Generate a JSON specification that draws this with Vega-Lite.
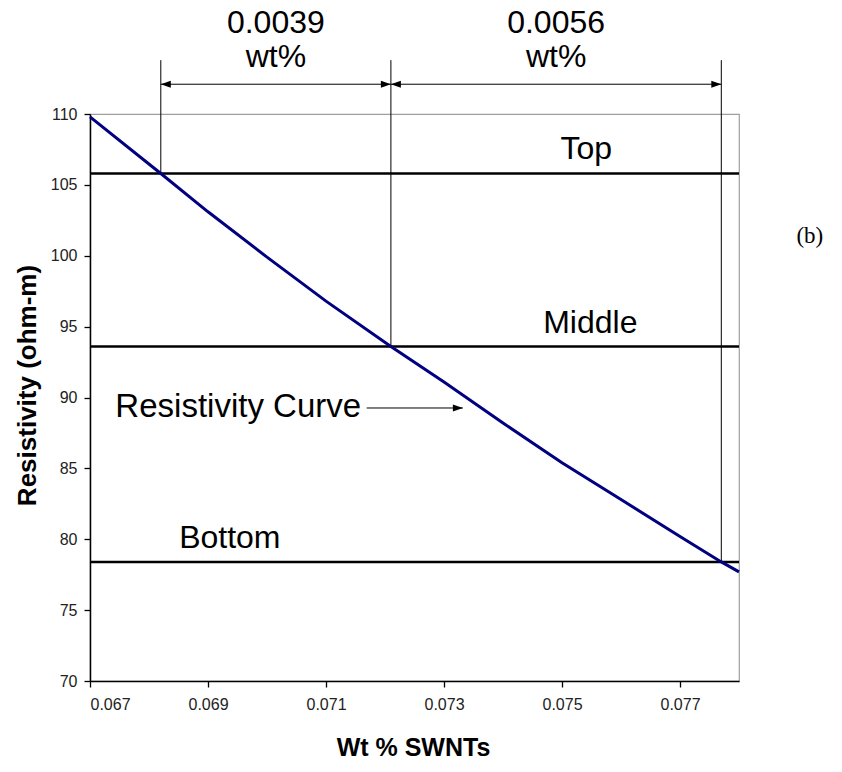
{
  "$schema": "https://vega.github.io/schema/vega-lite/v6.json",
  "autosize": "none",
  "width": 649,
  "height": 567,
  "padding": {"left": 90, "top": 114, "right": 103, "bottom": 91},
  "background": "white",
  "config": {
    "view": {"stroke": "#a0a0a0", "strokeWidth": 1.2},
    "font": "Liberation Sans",
    "axis": {
      "grid": false,
      "domainColor": "#000000",
      "domainWidth": 1.5,
      "tickColor": "#000000",
      "tickWidth": 1.3,
      "tickSize": 6,
      "labelFont": "Liberation Sans",
      "labelFontSize": 16,
      "labelColor": "#222222",
      "titleFont": "Liberation Sans",
      "titleFontWeight": "bold",
      "titleColor": "#000000"
    }
  },
  "datasets": {
    "curve": [
      {"wt": 0.067, "rho": 109.8},
      {"wt": 0.0682, "rho": 105.8},
      {"wt": 0.069, "rho": 103.1},
      {"wt": 0.070, "rho": 99.9},
      {"wt": 0.071, "rho": 96.8},
      {"wt": 0.0721, "rho": 93.6},
      {"wt": 0.073, "rho": 91.1},
      {"wt": 0.074, "rho": 88.2},
      {"wt": 0.075, "rho": 85.4},
      {"wt": 0.076, "rho": 82.8},
      {"wt": 0.077, "rho": 80.2},
      {"wt": 0.0777, "rho": 78.4},
      {"wt": 0.078, "rho": 77.7}
    ],
    "levels": [
      {"name": "Top", "rho": 105.8},
      {"name": "Middle", "rho": 93.6},
      {"name": "Bottom", "rho": 78.4}
    ],
    "crossings": [
      {"wt": 0.0682, "rho": 105.8, "top": 113.8},
      {"wt": 0.0721, "rho": 93.6, "top": 113.8},
      {"wt": 0.0777, "rho": 78.4, "top": 113.8}
    ],
    "spans": [
      {"from": 0.0682, "to": 0.0721, "rho": 112.1},
      {"from": 0.0721, "to": 0.0777, "rho": 112.1},
      {"from": 0.07169, "to": 0.07332, "rho": 89.26}
    ],
    "heads": [
      {"wt": 0.0682, "rho": 112.1, "dir": "left"},
      {"wt": 0.0721, "rho": 112.1, "dir": "right"},
      {"wt": 0.0721, "rho": 112.1, "dir": "left"},
      {"wt": 0.0777, "rho": 112.1, "dir": "right"},
      {"wt": 0.07332, "rho": 89.26, "dir": "right"}
    ],
    "labels": [
      {"wt": 0.07015, "rho": 115.71, "text": "0.0039"},
      {"wt": 0.07015, "rho": 113.31, "text": "wt%"},
      {"wt": 0.0749, "rho": 115.71, "text": "0.0056"},
      {"wt": 0.0749, "rho": 113.31, "text": "wt%"},
      {"wt": 0.07541, "rho": 106.83, "text": "Top"},
      {"wt": 0.07548, "rho": 94.55, "text": "Middle"},
      {"wt": 0.06937, "rho": 79.38, "text": "Bottom"}
    ],
    "curveLabel": [
      {"wt": 0.06743, "rho": 88.62, "text": "Resistivity Curve"}
    ],
    "panel": [
      {"wt": 0.0792, "rho": 100.9, "text": "(b)"}
    ]
  },
  "encoding": {
    "x": {
      "type": "quantitative",
      "scale": {"domain": [0.067, 0.078], "nice": false, "zero": false}
    },
    "y": {
      "type": "quantitative",
      "scale": {"domain": [70, 110], "nice": false, "zero": false}
    }
  },
  "layer": [
    {
      "data": {"name": "levels"},
      "mark": {"type": "rule", "color": "#000000", "strokeWidth": 2.5},
      "encoding": {"y": {"field": "rho", "type": "quantitative"}}
    },
    {
      "data": {"name": "crossings"},
      "mark": {"type": "rule", "color": "#000000", "strokeWidth": 1, "clip": false},
      "encoding": {
        "x": {"field": "wt", "type": "quantitative"},
        "y": {"field": "rho", "type": "quantitative"},
        "y2": {"field": "top"}
      }
    },
    {
      "data": {"name": "spans"},
      "mark": {"type": "rule", "color": "#000000", "strokeWidth": 1, "clip": false},
      "encoding": {
        "x": {"field": "from", "type": "quantitative"},
        "x2": {"field": "to"},
        "y": {"field": "rho", "type": "quantitative"}
      }
    },
    {
      "data": {"name": "heads"},
      "mark": {"type": "point", "filled": true, "color": "#000000", "opacity": 1, "size": 100, "clip": false},
      "encoding": {
        "x": {"field": "wt", "type": "quantitative"},
        "y": {"field": "rho", "type": "quantitative"},
        "shape": {
          "field": "dir",
          "type": "nominal",
          "scale": {"domain": ["left", "right"], "range": ["M0,0L2,-0.7L2,0.7Z", "M0,0L-2,-0.7L-2,0.7Z"]},
          "legend": null
        }
      }
    },
    {
      "data": {"name": "curve"},
      "mark": {"type": "line", "color": "#000080", "strokeWidth": 3},
      "encoding": {
        "x": {
          "field": "wt",
          "type": "quantitative",
          "axis": {
            "values": [0.067, 0.069, 0.071, 0.073, 0.075, 0.077],
            "format": ".3f",
            "labelPadding": 9,
            "title": "Wt % SWNTs",
            "titleFontSize": 25,
            "titleX": 323,
            "titleY": 74,
            "titleBaseline": "alphabetic"
          }
        },
        "y": {
          "field": "rho",
          "type": "quantitative",
          "axis": {
            "values": [70, 75, 80, 85, 90, 95, 100, 105, 110],
            "labelPadding": 7,
            "title": "Resistivity (ohm-m)",
            "titleFontSize": 26,
            "titleX": -63,
            "titleY": 271,
            "titleAngle": -90,
            "titleAlign": "center",
            "titleBaseline": "middle"
          }
        }
      }
    },
    {
      "data": {"name": "labels"},
      "mark": {"type": "text", "font": "Liberation Sans", "fontSize": 32, "color": "#000000", "align": "center", "baseline": "alphabetic", "clip": false},
      "encoding": {
        "x": {"field": "wt", "type": "quantitative"},
        "y": {"field": "rho", "type": "quantitative"},
        "text": {"field": "text"}
      }
    },
    {
      "data": {"name": "curveLabel"},
      "mark": {"type": "text", "font": "Liberation Sans", "fontSize": 33, "color": "#000000", "align": "left", "baseline": "alphabetic"},
      "encoding": {
        "x": {"field": "wt", "type": "quantitative"},
        "y": {"field": "rho", "type": "quantitative"},
        "text": {"field": "text"}
      }
    },
    {
      "data": {"name": "panel"},
      "mark": {"type": "text", "font": "Liberation Serif", "fontSize": 23, "color": "#000000", "align": "center", "baseline": "alphabetic", "clip": false},
      "encoding": {
        "x": {"field": "wt", "type": "quantitative"},
        "y": {"field": "rho", "type": "quantitative"},
        "text": {"field": "text"}
      }
    }
  ]
}
